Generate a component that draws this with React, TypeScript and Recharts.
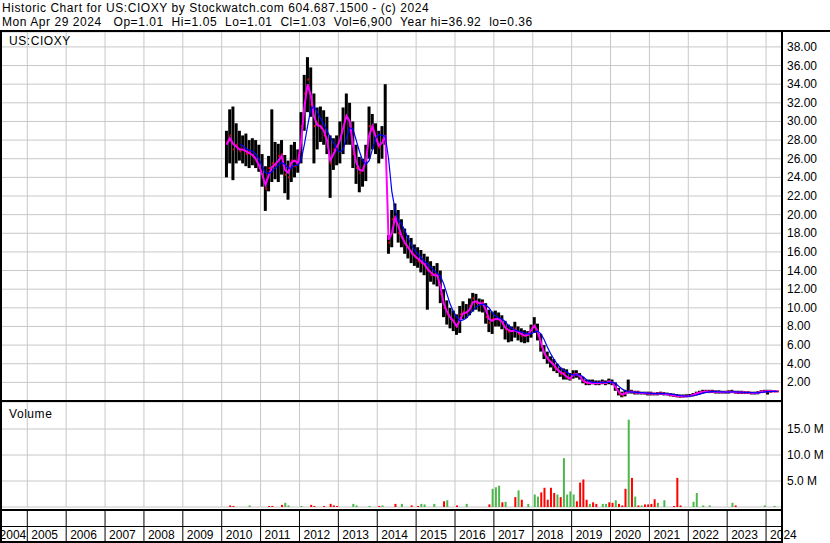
import { ComposedChart, Bar, Line, XAxis, YAxis, CartesianGrid } from 'recharts';

const FONT = '"Liberation Sans", Arial, sans-serif';

// monthly bars, first one is Feb 2010
const FIRST_MONTH = 1;

const highs = [
  29.0, 31.3, 31.6, 29.8, 29.0, 28.5, 28.7, 28.0, 28.2, 28.0, 27.5,
  26.5, 25.2, 26.3, 31.3, 27.8, 27.6, 28.0, 26.4, 25.8, 27.5, 27.8, 27.0,
  31.0, 35.0, 36.9, 35.8, 33.0, 31.5, 31.6, 31.2, 30.5, 28.5, 28.2, 28.5,
  30.0, 31.5, 33.0, 32.0, 30.0, 27.5, 26.2, 26.0, 27.5, 31.6, 30.8, 29.8,
  29.0, 29.5, 34.0, 17.8, 20.5, 21.2, 20.5, 19.5, 18.5, 17.8, 17.5, 16.8,
  16.5, 16.2, 15.8, 15.5, 15.0, 14.5, 14.8, 14.0, 12.0, 10.8, 10.0, 9.7,
  9.3, 10.2, 10.7, 10.4, 11.0, 11.6, 11.5, 11.0, 10.9, 10.5, 9.8, 9.6,
  9.7, 9.5, 9.2, 8.6, 8.2, 8.0, 8.5, 8.0, 7.8, 7.6, 7.5, 8.2,
  9.0, 8.3, 7.2, 6.0, 5.3, 4.8, 4.5, 4.0, 3.6, 3.5, 3.4, 3.0,
  3.3, 3.3, 3.0, 2.6, 2.3, 2.3, 2.3, 2.2, 2.2, 2.3, 2.2, 2.4,
  2.3, 2.0, 1.4, 1.0, 1.2, 2.3, 1.2, 1.1, 1.1, 1.0, 1.0, 1.0,
  1.0, 0.9, 0.95, 1.0, 0.95, 0.9, 0.85, 0.8, 0.75, 0.7, 0.7, 0.72,
  0.75, 0.85, 1.0, 1.1, 1.2, 1.2, 1.2, 1.2, 1.15, 1.15, 1.1, 1.1,
  1.15, 1.2, 1.1, 1.1, 1.1, 1.05, 1.05, 1.0, 1.0, 1.05, 1.15, 1.2,
  1.2, 1.2, 1.15, 1.1,
];

const lows = [
  24.0, 25.5, 23.7, 25.5, 25.8, 25.5, 25.2, 25.0, 25.3, 25.0, 24.6,
  23.0, 20.4, 22.5, 23.5, 23.8, 23.5, 24.3, 22.3, 21.6, 23.5, 24.0, 24.5,
  25.5, 29.0, 31.0, 30.5, 25.5, 27.0, 27.8, 27.5, 26.5, 21.8, 24.8, 25.3,
  25.5, 26.5, 27.5, 27.5, 25.0, 23.3, 22.4, 23.0, 23.6, 26.0, 27.0, 26.5,
  25.5, 26.0, 27.5, 15.8, 16.5, 18.0, 17.0, 16.5, 15.8, 15.3, 14.8, 14.5,
  14.3, 13.8, 13.5, 9.8, 12.8, 12.5, 12.3, 10.5, 9.0, 8.2, 7.8, 7.5,
  7.1, 7.3, 8.8, 8.9, 9.2, 9.6, 9.8, 9.6, 9.5, 8.3, 7.4, 7.2,
  8.0, 8.0, 7.7, 6.6, 6.3, 6.4, 6.8, 6.5, 6.3, 6.2, 6.3, 6.8,
  7.3, 6.5, 5.3, 4.5, 4.0, 3.6, 3.2, 3.0, 2.6, 2.3, 2.3, 2.2,
  2.4, 2.5, 2.3, 1.9, 1.7, 1.7, 1.8, 1.7, 1.7, 1.8, 1.7, 1.8,
  1.7, 1.1, 0.6, 0.4, 0.5, 0.8, 0.8, 0.7, 0.7, 0.7, 0.7, 0.6,
  0.6, 0.6, 0.6, 0.65, 0.6, 0.6, 0.5, 0.45, 0.4, 0.36, 0.38, 0.4,
  0.42, 0.5, 0.6, 0.7, 0.8, 0.85, 0.85, 0.85, 0.8, 0.8, 0.8, 0.8,
  0.8, 0.85, 0.8, 0.75, 0.75, 0.75, 0.75, 0.7, 0.7, 0.72, 0.85, 0.9,
  0.7, 0.9, 0.95, 0.95,
];

const closes = [
  27.8, 28.5, 27.0, 27.5, 26.8, 27.3, 26.5, 26.8, 26.3, 25.8, 25.0,
  24.0, 22.8, 25.0, 25.5, 25.2, 26.3, 26.5, 24.3, 24.0, 25.8, 25.2, 25.7,
  29.5, 33.0, 34.5, 31.8, 29.5, 29.8, 29.3, 28.5, 27.5, 25.5, 27.0, 27.3,
  28.3, 29.5, 30.5, 29.5, 26.5, 25.0, 24.5, 24.8, 26.5, 29.5, 29.0, 28.0,
  27.2, 28.0, 28.0, 17.0, 19.5, 19.8, 18.0, 17.5, 16.8, 16.5, 15.8, 15.5,
  15.0, 14.8, 14.6, 14.0, 13.5, 13.6, 13.3, 11.5, 10.0, 9.3, 8.8, 8.5,
  8.0, 9.3, 9.6, 9.5, 10.2, 11.0, 10.5, 10.3, 10.6, 9.0, 8.4, 8.8,
  8.8, 8.7, 8.3, 7.7, 7.4, 7.5, 7.8, 7.2, 7.0, 7.0, 7.1, 7.8,
  8.0, 7.0, 5.8, 5.0, 4.5, 4.2, 3.6, 3.3, 2.9, 3.0, 2.5, 2.4,
  2.9, 2.8, 2.6, 2.1, 1.9, 2.0, 2.0, 1.9, 2.0, 2.0, 1.9, 2.1,
  1.9, 1.3, 0.8, 0.6, 0.9, 1.0, 1.0, 0.9, 0.9, 0.85, 0.8, 0.8,
  0.8, 0.75, 0.8, 0.8, 0.75, 0.7, 0.65, 0.6, 0.5, 0.48, 0.5, 0.55,
  0.55, 0.7, 0.85, 0.95, 1.0, 1.05, 1.0, 1.0, 0.95, 0.95, 0.95, 0.95,
  1.0, 1.0, 0.9, 0.9, 0.92, 0.9, 0.88, 0.85, 0.85, 0.9, 1.0, 1.05,
  1.05, 1.05, 1.02, 1.03,
];

// short average (magenta)
const avgShort = [
  27.5, 28.2, 27.6, 27.3, 27.0, 27.0, 26.8, 26.6, 26.4, 26.0, 25.3,
  24.3, 23.2, 24.2, 25.1, 25.4, 25.8, 26.3, 24.8, 24.5, 25.6, 25.8, 25.5,
  27.8, 31.5, 34.0, 32.8, 30.5, 29.6, 29.5, 29.0, 28.0, 25.8, 26.5, 27.2,
  28.0, 29.3, 30.6, 30.0, 27.5, 25.6, 24.8, 24.7, 25.8, 28.5, 29.5, 28.4,
  27.4, 27.7, 28.5, 17.3, 18.0, 19.6, 18.8, 17.7, 17.0, 16.5, 16.0, 15.6,
  15.3, 15.0, 14.7, 14.2, 13.8, 13.5, 13.5, 12.3, 10.5, 9.6, 9.0, 8.6,
  8.0, 8.7, 9.4, 9.5, 9.8, 10.6, 10.7, 10.5, 10.5, 9.8, 8.8, 8.6,
  8.8, 8.8, 8.5, 7.9, 7.6, 7.5, 7.6, 7.4, 7.2, 7.0, 7.1, 7.6,
  8.1, 7.5, 6.3, 5.2, 4.6, 4.2, 3.9, 3.4, 3.1, 2.9, 2.6, 2.4,
  2.8, 2.9, 2.7, 2.2, 2.0, 1.9, 1.9, 1.9, 1.9, 2.0, 1.9, 2.1,
  2.0, 1.5, 1.0, 0.7, 0.8, 1.0, 1.0, 0.9, 0.9, 0.85, 0.85, 0.8,
  0.8, 0.78, 0.78, 0.8, 0.78, 0.72, 0.68, 0.6, 0.55, 0.5, 0.5, 0.52,
  0.55, 0.65, 0.8, 0.9, 0.98, 1.02, 1.02, 1.0, 0.98, 0.96, 0.95, 0.95,
  0.97, 1.0, 0.95, 0.92, 0.92, 0.9, 0.9, 0.87, 0.86, 0.88, 0.97, 1.03,
  1.04, 1.05, 1.04, 1.03,
];

// long average (blue)
const avgLong = [
  null, null, null, null, 27.6, 27.4, 27.1, 26.9, 26.8, 26.5, 26.0,
  25.2, 24.5, 24.4, 24.6, 25.0, 25.3, 25.6, 25.4, 25.0, 25.0, 25.3, 25.3,
  25.8, 27.5, 29.5, 31.3, 31.6, 31.0, 30.3, 29.7, 29.0, 28.3, 27.7, 27.0,
  26.7, 27.0, 28.3, 29.3, 29.2, 28.0, 26.8, 25.8, 25.4, 25.8, 27.0, 28.2,
  28.6, 28.5, 28.4, 26.0, 22.5, 20.5, 19.4, 19.0, 18.3, 17.5, 16.8, 16.2,
  15.8, 15.4, 15.0, 14.7, 14.4, 14.0, 13.7, 13.4, 12.6, 11.5, 10.4, 9.6,
  9.0, 8.6, 8.7, 8.9, 9.3, 9.7, 10.1, 10.3, 10.4, 10.3, 10.0, 9.5,
  9.1, 8.9, 8.8, 8.5, 8.1, 7.8, 7.6, 7.5, 7.4, 7.3, 7.2, 7.2,
  7.4, 7.5, 7.2, 6.6, 5.8, 5.1, 4.5, 4.0, 3.6, 3.3, 3.1, 2.9,
  2.8, 2.8, 2.8, 2.6, 2.3, 2.1, 2.0, 2.0, 2.0, 2.0, 2.0, 2.0,
  2.0, 1.9, 1.6, 1.3, 1.1, 1.0, 0.95, 0.95, 0.9, 0.9, 0.88, 0.85,
  0.82, 0.8, 0.8, 0.8, 0.8, 0.78, 0.74, 0.7, 0.64, 0.58, 0.54, 0.52,
  0.52, 0.56, 0.64, 0.74, 0.84, 0.92, 0.98, 1.0, 1.0, 0.98, 0.97, 0.96,
  0.96, 0.97, 0.97, 0.95, 0.94, 0.92, 0.91, 0.9, 0.88, 0.88, 0.92, 0.97,
  1.0, 1.02, 1.03, 1.04,
];

// volume spikes: month index from Jan 2010, millions of shares, up day or not
const volMonths = [
  2, 3, 8, 14, 15, 18, 19, 20, 24, 27, 28, 31, 33, 34, 35, 40, 41, 45, 48, 49,
  53, 55, 58, 60, 61, 62, 65, 68, 69, 72, 75, 82, 83, 84, 85, 86, 87, 90, 91, 92,
  94, 96, 97, 98, 99, 100, 101, 102, 103, 104, 105, 106, 107, 108, 109, 110, 111, 112, 113, 114,
  115, 117, 118, 119, 120, 121, 122, 123, 124, 125, 126, 127, 128, 129, 130, 131, 132, 133, 134, 136,
  139, 140, 141, 145, 146, 148, 150, 157, 158, 167, 170,
];
const volValues = [
  0.3, 0.2, 0.3, 0.2, 0.2, 0.4, 0.8, 0.3, 0.2, 0.4, 0.2, 0.2, 0.6, 0.3, 0.2, 0.6, 0.3, 0.2, 0.2, 0.3,
  0.6, 0.6, 0.3, 0.2, 0.6, 0.5, 0.6, 1.1, 1.3, 0.3, 0.6, 0.5, 3.5, 3.8, 4.1, 0.9, 1.0, 1.9, 3.2, 1.4,
  0.6, 2.4, 2.0, 2.8, 3.7, 1.4, 3.7, 2.7, 2.4, 1.9, 9.4, 2.4, 3.0, 2.4, 1.1, 4.7, 5.3, 1.4, 0.6, 0.9,
  0.6, 0.6, 0.6, 0.9, 0.8, 1.3, 0.6, 0.3, 3.5, 16.8, 5.6, 2.0, 0.3, 0.3, 0.5, 0.5, 0.6, 1.5, 0.8, 1.3,
  0.2, 5.6, 0.3, 1.0, 2.7, 0.3, 0.3, 0.8, 0.3, 0.3, 0.2,
];
const volUp = [
  0, 0, 1, 0, 0, 0, 1, 1, 1, 0, 0, 0, 0, 0, 0, 1, 1, 1, 0, 1,
  0, 1, 0, 0, 1, 1, 1, 0, 1, 0, 1, 0, 1, 1, 1, 0, 1, 0, 1, 0,
  1, 1, 1, 0, 0, 0, 0, 0, 1, 0, 1, 1, 1, 1, 0, 0, 0, 0, 1, 0,
  0, 1, 1, 0, 0, 1, 0, 0, 0, 1, 0, 1, 0, 1, 0, 0, 0, 0, 1, 1,
  0, 0, 0, 1, 1, 1, 1, 1, 0, 1, 1,
];

const yearTicks = [2005, 2006, 2007, 2008, 2009, 2010, 2011, 2012, 2013, 2014, 2015, 2016, 2017, 2018, 2019, 2020, 2021, 2022, 2023, 2024];
const priceTicks = [2, 4, 6, 8, 10, 12, 14, 16, 18, 20, 22, 24, 26, 28, 30, 32, 34, 36, 38];
const volTicks = [5, 10, 15];

const X_DOMAIN = [2004.298, 2024.41];

const monthTime = (m: number) => 2010 + (m + 0.5) / 12;

const priceData = highs.map((hi, i) => ({
  t: monthTime(i + FIRST_MONTH),
  hi,
  lo: lows[i],
  cl: closes[i],
  ma1: avgShort[i],
  ma2: avgLong[i],
}));

const volData = volMonths.map((m, i) => ({
  t: monthTime(m),
  vol: volValues[i],
  up: volUp[i] === 1,
}));

const OhlcBar = (props: any) => {
  const { x, y, width, height, payload } = props;
  if (x == null || y == null) return null;
  const span = payload.hi - payload.lo || 1;
  const cy = y + (height * (payload.hi - payload.cl)) / span;
  const h = Math.max(height, 1);
  return (
    <g>
      <rect x={x} y={y} width={width} height={h} fill="#000" />
      <rect x={x + width - 1.5} y={cy - 1} width={1.5} height={2} fill="#ff0000" />
    </g>
  );
};

const VolBar = (props: any) => {
  const { x, y, width, height, payload } = props;
  if (x == null || y == null || height <= 0) return null;
  return <rect x={x} y={y} width={width} height={height} fill={payload.up ? '#4cb84c' : '#ff0000'} />;
};

const PriceTick = ({ y, payload }: any) => (
  <text x={787} y={y + 4} fontSize={12} fontFamily={FONT} fill="#000">
    {Number(payload.value).toFixed(2)}
  </text>
);

const VolTick = ({ y, payload }: any) => (
  <text x={787} y={y + 4} fontSize={12} fontFamily={FONT} fill="#000">
    {`${Number(payload.value).toFixed(1)} M`}
  </text>
);

const YearTick = ({ x, payload }: any) => (
  <g>
    <line x1={x} x2={x} y1={109} y2={139} stroke="#000" strokeWidth={1} />
    <text x={x + 4} y={137} fontSize={12} fontFamily={FONT} fill="#000">
      {payload.value}
    </text>
    {payload.value === 2005 && (
      <text x={x - 1} y={137} fontSize={12} fontFamily={FONT} fill="#000" textAnchor="end">
        2004
      </text>
    )}
  </g>
);

const hLine = (top: number, height = 2, width = 783) => (
  <div style={{ position: 'absolute', left: 0, top, width, height, background: '#000' }} />
);
const vLine = (left: number) => (
  <div style={{ position: 'absolute', left, top: 30, width: 2, height: 513, background: '#000' }} />
);

const textStyle = (left: number, top: number): React.CSSProperties => ({
  position: 'absolute',
  left,
  top,
  fontFamily: FONT,
  fontSize: 12,
  letterSpacing: '0.56px',
  lineHeight: '14px',
  whiteSpace: 'pre',
  color: '#000',
});

export default function App() {
  return (
    <div style={{ position: 'relative', width: 830, height: 543, background: '#fff', overflow: 'hidden' }}>
      <style>{'body{margin:0}'}</style>
      <div style={{ position: 'absolute', left: 0, top: 0 }}>
        <ComposedChart width={830} height={401} data={priceData} margin={{ top: 32, right: 0, bottom: 0, left: 0 }}>
          <CartesianGrid stroke="#c8c8c8" />
          <XAxis type="number" dataKey="t" domain={X_DOMAIN} ticks={yearTicks} allowDataOverflow hide />
          <YAxis
            orientation="right"
            width={48}
            domain={[0, 39.6]}
            ticks={priceTicks}
            allowDataOverflow
            axisLine={false}
            tickLine={false}
            tick={<PriceTick />}
            interval={0}
          />
          <Bar dataKey={(d: any) => [d.lo, d.hi]} barSize={3} shape={<OhlcBar />} isAnimationActive={false} />
          <Line dataKey="ma1" type="linear" stroke="#ff00ff" strokeWidth={2} dot={false} isAnimationActive={false} />
          <Line dataKey="ma2" type="linear" stroke="#0000ff" strokeWidth={1.2} dot={false} isAnimationActive={false} />
        </ComposedChart>
      </div>
      <div style={{ position: 'absolute', left: 0, top: 402 }}>
        <ComposedChart width={830} height={141} data={volData} margin={{ top: 0, right: 0, bottom: 0, left: 0 }}>
          <CartesianGrid stroke="#c8c8c8" />
          <XAxis
            type="number"
            dataKey="t"
            domain={X_DOMAIN}
            ticks={yearTicks}
            allowDataOverflow
            height={36}
            axisLine={false}
            tickLine={false}
            interval={0}
            tick={<YearTick />}
          />
          <YAxis
            orientation="right"
            width={48}
            domain={[0, 20.2]}
            ticks={volTicks}
            allowDataOverflow
            axisLine={false}
            tickLine={false}
            tick={<VolTick />}
            interval={0}
          />
          <Bar dataKey="vol" barSize={2} shape={<VolBar />} isAnimationActive={false} />
        </ComposedChart>
      </div>
      <div style={textStyle(2, 1)}>Historic Chart for US:CIOXY by Stockwatch.com 604.687.1500 - (c) 2024</div>
      <div style={textStyle(2, 15)}>Mon Apr 29 2024   Op=1.01  Hi=1.05  Lo=1.01  Cl=1.03  Vol=6,900  Year hi=36.92  lo=0.36</div>
      <div style={textStyle(9, 34)}>US:CIOXY</div>
      <div style={textStyle(9, 407)}>Volume</div>
      {hLine(30, 2, 830)}
      {hLine(400)}
      {hLine(509)}
      {hLine(526, 1)}
      {hLine(541)}
      {vLine(0)}
      {vLine(781)}
    </div>
  );
}
